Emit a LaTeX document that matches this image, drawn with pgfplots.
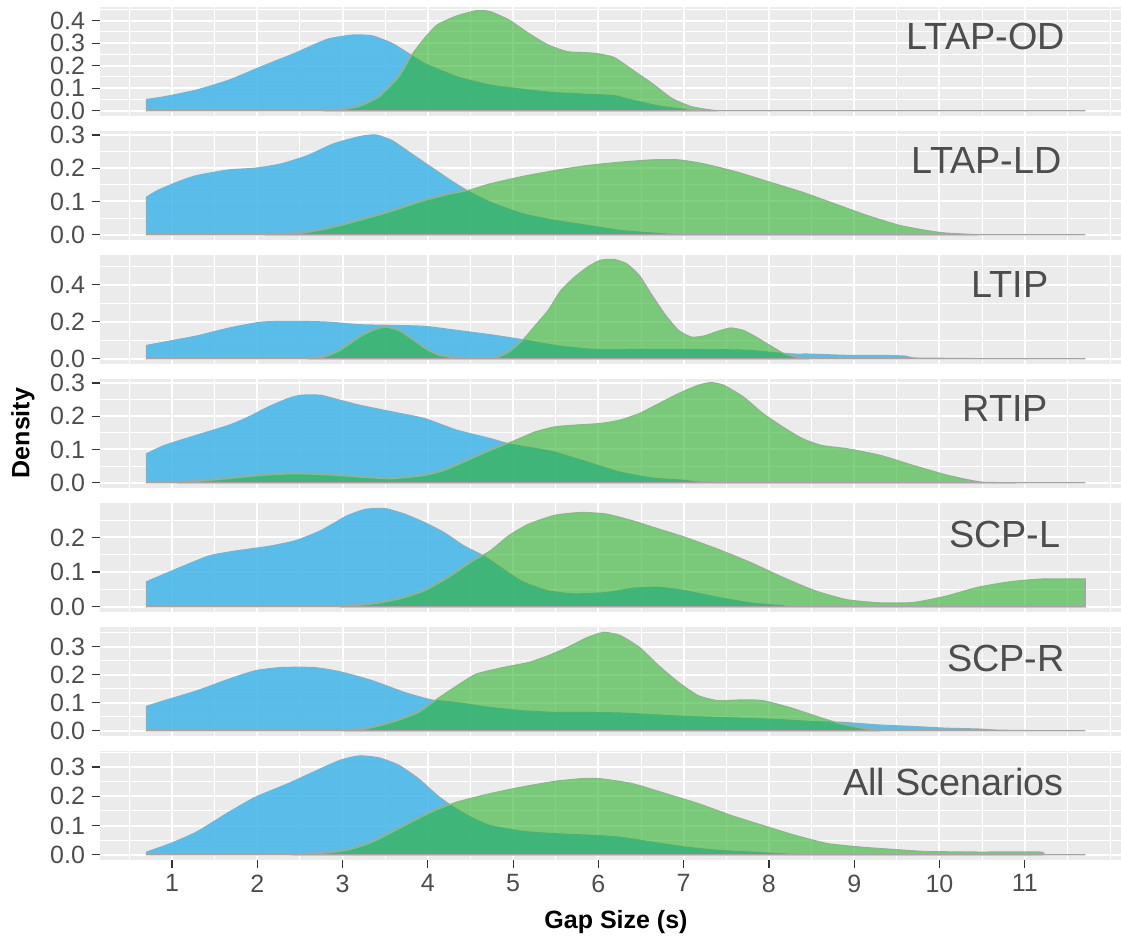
\documentclass[border=0pt]{standalone}
\usepackage{fontspec}
\setmainfont{Liberation Sans}
\usepackage{pgfplots}
\pgfplotsset{compat=1.18}
\usepackage{pgfplotstable}

\definecolor{panelbg}{HTML}{EBEBEB}
\definecolor{bluef}{RGB}{75,183,232}
\definecolor{greenf}{RGB}{48,177,48}
\definecolor{outl}{RGB}{165,165,165}
\definecolor{txt}{HTML}{4D4D4D}
\definecolor{tickc}{HTML}{333333}

% ---- LTAP-OD
\pgfplotstableread{
x y
0.70 0.050
0.91 0.062
1.29 0.092
1.67 0.136
2.05 0.196
2.44 0.255
2.82 0.317
3.12 0.336
3.35 0.332
3.58 0.299
3.77 0.255
3.96 0.210
4.34 0.151
4.73 0.114
5.11 0.095
5.49 0.080
5.87 0.073
6.18 0.067
6.40 0.047
6.71 0.021
7.02 0.006
7.32 0.000
11.71 0.000
}\tAb
\pgfplotstableread{
x y
2.78 0.000
2.97 0.003
3.20 0.020
3.43 0.062
3.66 0.151
3.81 0.247
3.96 0.321
4.11 0.381
4.34 0.421
4.57 0.444
4.73 0.440
4.95 0.403
5.18 0.344
5.41 0.292
5.64 0.262
5.95 0.255
6.18 0.237
6.40 0.181
6.63 0.121
6.86 0.055
7.09 0.018
7.32 0.003
7.40 0.000
}\tAg
% ---- LTAP-LD
\pgfplotstableread{
x y
0.70 0.113
0.83 0.133
1.06 0.158
1.29 0.178
1.67 0.195
1.98 0.200
2.28 0.213
2.59 0.238
2.89 0.273
3.20 0.295
3.39 0.300
3.58 0.283
3.81 0.243
4.04 0.203
4.27 0.163
4.46 0.133
4.73 0.098
5.11 0.063
5.49 0.043
5.87 0.028
6.25 0.013
6.63 0.005
6.86 0.001
7.20 0
11.71 0
}\tBb
\pgfplotstableread{
x y
2.09 0
2.47 0.003
2.82 0.018
3.20 0.043
3.58 0.071
3.96 0.103
4.27 0.123
4.50 0.135
4.73 0.153
5.11 0.175
5.49 0.193
5.87 0.208
6.25 0.218
6.63 0.225
6.94 0.225
7.24 0.213
7.63 0.188
8.01 0.158
8.39 0.128
8.77 0.093
9.15 0.058
9.53 0.028
9.84 0.013
10.07 0.005
10.45 0
}\tBg
% ---- LTIP
\pgfplotstableread{
x y
0.70 0.072
0.91 0.090
1.29 0.123
1.67 0.166
2.05 0.198
2.44 0.202
2.82 0.198
3.20 0.184
3.58 0.180
3.96 0.175
4.34 0.153
4.73 0.130
5.11 0.103
5.49 0.072
5.95 0.050
6.63 0.050
7.40 0.049
7.78 0.045
8.08 0.032
8.31 0.025
8.47 0.025
8.92 0.018
9.31 0.018
9.60 0.014
9.69 0.004
10.07 0.002
10.68 0
11.71 0
}\tCb
\pgfplotstableread{
x y
2.59 0
2.78 0.009
2.97 0.045
3.20 0.117
3.35 0.153
3.50 0.171
3.66 0.153
3.81 0.108
3.96 0.058
4.11 0.022
4.27 0.007
4.42 0.002
4.65 0
4.80 0.004
4.95 0.036
5.11 0.099
5.26 0.180
5.41 0.261
5.56 0.369
5.72 0.441
5.87 0.495
6.02 0.532
6.18 0.537
6.33 0.514
6.48 0.450
6.63 0.342
6.79 0.234
6.94 0.153
7.09 0.117
7.24 0.123
7.40 0.148
7.55 0.166
7.70 0.153
7.85 0.117
8.01 0.072
8.16 0.032
8.31 0.009
8.47 0
}\tCg
% ---- RTIP
\pgfplotstableread{
x y
0.70 0.087
0.91 0.112
1.29 0.143
1.67 0.173
1.90 0.198
2.13 0.228
2.36 0.253
2.51 0.263
2.74 0.263
2.97 0.248
3.20 0.233
3.58 0.213
3.96 0.193
4.34 0.158
4.73 0.133
4.95 0.117
5.26 0.103
5.49 0.092
5.87 0.062
6.25 0.032
6.63 0.014
7.02 0.007
7.47 0
11.71 0
}\tDb
\pgfplotstableread{
x y
1.06 0
1.44 0.007
2.05 0.022
2.44 0.027
2.82 0.024
3.20 0.017
3.58 0.012
3.96 0.022
4.19 0.037
4.42 0.062
4.73 0.097
5.03 0.128
5.26 0.153
5.49 0.168
5.72 0.173
6.02 0.178
6.25 0.188
6.48 0.208
6.71 0.238
6.94 0.268
7.17 0.293
7.32 0.301
7.47 0.293
7.70 0.258
7.93 0.208
8.16 0.168
8.39 0.133
8.62 0.112
8.92 0.102
9.31 0.082
9.69 0.052
10.07 0.024
10.37 0.007
10.53 0.001
10.90 0
}\tDg
% ---- SCP-L
\pgfplotstableread{
x y
0.70 0.072
0.91 0.094
1.14 0.118
1.44 0.147
1.75 0.161
2.13 0.174
2.44 0.190
2.74 0.219
3.05 0.262
3.27 0.281
3.50 0.283
3.73 0.267
3.96 0.243
4.19 0.214
4.42 0.176
4.65 0.147
4.88 0.109
5.11 0.072
5.41 0.046
5.72 0.037
6.10 0.041
6.40 0.053
6.71 0.056
7.02 0.046
7.40 0.027
7.78 0.011
8.16 0.003
8.40 0
11.71 0
}\tEb
\pgfplotstableread{
x y
2.97 0
3.35 0.008
3.66 0.022
3.96 0.046
4.27 0.089
4.50 0.128
4.73 0.161
4.95 0.205
5.18 0.238
5.49 0.264
5.80 0.272
6.10 0.267
6.40 0.248
6.71 0.224
7.02 0.200
7.40 0.166
7.78 0.128
8.16 0.085
8.54 0.046
8.92 0.020
9.31 0.011
9.69 0.012
10.07 0.030
10.45 0.056
10.83 0.072
11.21 0.080
11.71 0.080
}\tEg
% ---- SCP-R
\pgfplotstableread{
x y
0.70 0.087
0.91 0.107
1.29 0.142
1.67 0.184
1.98 0.214
2.28 0.225
2.66 0.225
2.97 0.210
3.35 0.178
3.73 0.136
4.04 0.110
4.34 0.100
4.73 0.083
5.11 0.071
5.49 0.065
5.87 0.065
6.25 0.063
6.63 0.057
7.02 0.051
7.40 0.047
7.78 0.044
8.16 0.039
8.54 0.032
8.85 0.030
9.31 0.020
9.69 0.015
10.07 0.009
10.45 0.006
10.68 0.002
11.21 0
11.71 0
}\tFb
\pgfplotstableread{
x y
3.01 0
3.27 0.006
3.58 0.030
3.89 0.065
4.11 0.113
4.34 0.160
4.57 0.202
4.88 0.225
5.18 0.243
5.41 0.267
5.64 0.297
5.87 0.332
6.06 0.350
6.25 0.340
6.48 0.297
6.71 0.231
6.94 0.172
7.17 0.125
7.40 0.107
7.70 0.110
7.93 0.107
8.24 0.083
8.54 0.053
8.85 0.024
9.15 0.006
9.31 0
}\tFg
% ---- All Scenarios
\pgfplotstableread{
x y
0.70 0.009
0.98 0.038
1.29 0.078
1.67 0.146
1.98 0.197
2.36 0.243
2.66 0.283
2.97 0.323
3.20 0.338
3.43 0.331
3.66 0.306
3.89 0.260
4.11 0.203
4.27 0.169
4.50 0.129
4.73 0.100
5.11 0.080
5.49 0.072
5.95 0.066
6.25 0.060
6.63 0.043
7.02 0.026
7.40 0.015
7.78 0.009
8.16 0.003
8.50 0
11.71 0
}\tGb
\pgfplotstableread{
x y
2.40 0
2.70 0.003
3.05 0.015
3.35 0.043
3.73 0.100
4.04 0.146
4.34 0.180
4.73 0.209
5.11 0.232
5.49 0.251
5.80 0.260
6.02 0.260
6.40 0.243
6.79 0.209
7.17 0.175
7.55 0.135
7.93 0.100
8.31 0.066
8.69 0.038
9.08 0.026
9.46 0.018
9.84 0.011
10.45 0.009
11.18 0.009
11.21 0
}\tGg

\pgfplotsset{
  panel/.style={
    scale only axis, width=516.1pt, height=54.5pt,
    xmin=0.155, xmax=12.26,
    anchor=south west,
    axis background/.style={fill=panelbg},
    axis line style={draw=none},
    xtick={1,2,3,4,5,6,7,8,9,10,11},
    minor xtick={0.5,1.5,2.5,3.5,4.5,5.5,6.5,7.5,8.5,9.5,10.5,11.5,12},
    grid=both,
    major grid style={white, line width=1pt},
    minor grid style={white, line width=0.5pt},
    tick align=outside, major tick length=4pt, minor tick length=0pt,
    tick style={tickc, line width=0.6pt},
    ytick pos=left, xtick pos=bottom,
    xmajorticks=false, xminorticks=false, yminorticks=false,
    ticklabel style={font=\fontsize{12.5}{15}\selectfont, text=txt},
    yticklabel style={/pgf/number format/.cd, fixed, fixed zerofill, precision=1},
    /pgf/number format/assume math mode=true,
  },
  bluea/.style={fill=bluef, fill opacity=0.9, draw=outl, line width=0.6pt, smooth, tension=0.35},
  greena/.style={fill=greenf, fill opacity=0.6, draw=outl, line width=0.6pt, smooth, tension=0.35},
}
\tikzset{strip/.style={anchor=east, inner sep=0pt, text=txt, font=\fontsize{18.9}{22}\selectfont}}

\begin{document}
\begin{tikzpicture}
\path[use as bounding box, clip] (0,0) rectangle (560.5pt,470.5pt);

\begin{axis}[panel, at={(50pt,412.65pt)}, ymin=-0.022, ymax=0.462,
  ytick={0,0.1,0.2,0.3,0.4}, minor ytick={0.05,0.15,0.25,0.35,0.45}]
\addplot[bluea] table {\tAb} \closedcycle;
\addplot[greena] table {\tAg} \closedcycle;
\node[strip] at (rel axis cs:0.935,0.725) {LTAP-OD};
\end{axis}

\begin{axis}[panel, at={(50pt,350.65pt)}, ymin=-0.0149, ymax=0.3129,
  ytick={0,0.1,0.2,0.3}, minor ytick={0.05,0.15,0.25}]
\addplot[bluea] table {\tBb} \closedcycle;
\addplot[greena] table {\tBg} \closedcycle;
\node[strip] at (rel axis cs:0.932,0.725) {LTAP-LD};
\end{axis}

\begin{axis}[panel, at={(50pt,288.65pt)}, ymin=-0.0268, ymax=0.5628,
  ytick={0,0.2,0.4}, minor ytick={0.1,0.3,0.5}]
\addplot[bluea] table {\tCb} \closedcycle;
\addplot[greena] table {\tCg} \closedcycle;
\node[strip] at (rel axis cs:0.919,0.73) {LTIP};
\end{axis}

\begin{axis}[panel, at={(50pt,226.65pt)}, ymin=-0.0149, ymax=0.3129,
  ytick={0,0.1,0.2,0.3}, minor ytick={0.05,0.15,0.25}]
\addplot[bluea] table {\tDb} \closedcycle;
\addplot[greena] table {\tDg} \closedcycle;
\node[strip] at (rel axis cs:0.919,0.725) {RTIP};
\end{axis}

\begin{axis}[panel, at={(50pt,164.65pt)}, ymin=-0.0143, ymax=0.3003,
  ytick={0,0.1,0.2}, minor ytick={0.05,0.15,0.25}]
\addplot[bluea] table {\tEb} \closedcycle;
\addplot[greena] table {\tEg} \closedcycle;
\node[strip] at (rel axis cs:0.931,0.705) {SCP-L};
\end{axis}

\begin{axis}[panel, at={(50pt,102.65pt)}, ymin=-0.01765, ymax=0.37065,
  ytick={0,0.1,0.2,0.3}, minor ytick={0.05,0.15,0.25,0.35}]
\addplot[bluea] table {\tFb} \closedcycle;
\addplot[greena] table {\tFg} \closedcycle;
\node[strip] at (rel axis cs:0.935,0.705) {SCP-R};
\end{axis}

\begin{axis}[panel, at={(50pt,40.65pt)}, ymin=-0.01695, ymax=0.35595,
  ytick={0,0.1,0.2,0.3}, minor ytick={0.05,0.15,0.25,0.35},
  xmajorticks=true,
  xticklabels={1,2,3,4,5,6,7,8,9,10,11}]
\addplot[bluea] table {\tGb} \closedcycle;
\addplot[greena] table {\tGg} \closedcycle;
\node[strip] at (rel axis cs:0.934,0.71) {All Scenarios};
\end{axis}

\node[rotate=90, inner sep=0pt, font=\fontsize{12.5}{15}\selectfont\bfseries] at (11.5pt,254pt) {Density};
\node[inner sep=0pt, font=\fontsize{12.5}{15}\selectfont\bfseries] at (308pt,9.5pt) {Gap Size (s)};
\end{tikzpicture}
\end{document}
